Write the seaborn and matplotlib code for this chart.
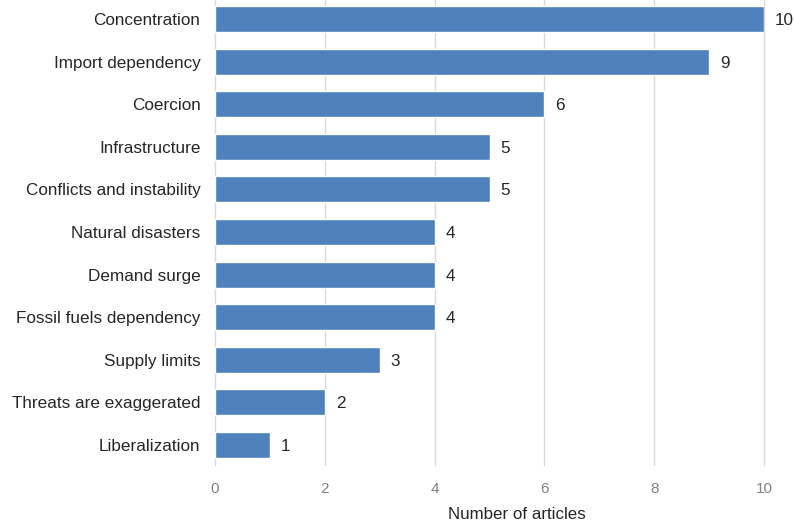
import matplotlib
matplotlib.use("Agg")
import matplotlib.pyplot as plt
import seaborn as sns
import pandas as pd

categories = [
    "Concentration",
    "Import dependency",
    "Coercion",
    "Infrastructure",
    "Conflicts and instability",
    "Natural disasters",
    "Demand surge",
    "Fossil fuels dependency",
    "Supply limits",
    "Threats are exaggerated",
    "Liberalization",
]
articles = [10, 9, 6, 5, 5, 4, 4, 4, 3, 2, 1]
x_ticks = [0, 2, 4, 6, 8, 10]

df = pd.DataFrame({"category": categories, "articles": articles})

sns.set_theme(style="white")
plt.rcParams["font.family"] = ["Liberation Sans", "DejaVu Sans"]

fig = plt.figure(figsize=(7.95, 5.25), dpi=100)
ax = fig.add_axes([215 / 795, 60 / 525, 549 / 795, 465 / 525])

sns.barplot(data=df, x="articles", y="category", orient="h",
            color="#4F81BD", saturation=1, width=0.61, ax=ax, zorder=3)

ax.set_xlim(0, 10)
ax.set_ylim(10.47, -0.446)
ax.set_xticks(x_ticks)
ax.set_xticklabels([str(t) for t in x_ticks])

ax.grid(axis="x", color="#d9d9d9", linewidth=1, zorder=0)
ax.grid(axis="y", visible=False)
for gl in ax.get_xgridlines():
    gl.set_clip_on(False)
for s in ax.spines.values():
    s.set_visible(False)

ax.tick_params(axis="y", length=0, pad=10.5, labelsize=12.3, labelcolor="#262626")
ax.tick_params(axis="x", length=0, pad=12, labelsize=11, labelcolor="#808080")

ax.set_ylabel("")
ax.set_xlabel("Number of articles", fontsize=12.2, color="#262626")
ax.xaxis.label.set_va("center")
ax.xaxis.set_label_coords(0.55, -0.1075)

texts = ax.bar_label(ax.containers[0], labels=[str(v) for v in articles],
                     padding=8, fontsize=12.3, color="#262626")
for t in texts:
    t.set_va("center_baseline")

fig.savefig("out.png", dpi=100)
